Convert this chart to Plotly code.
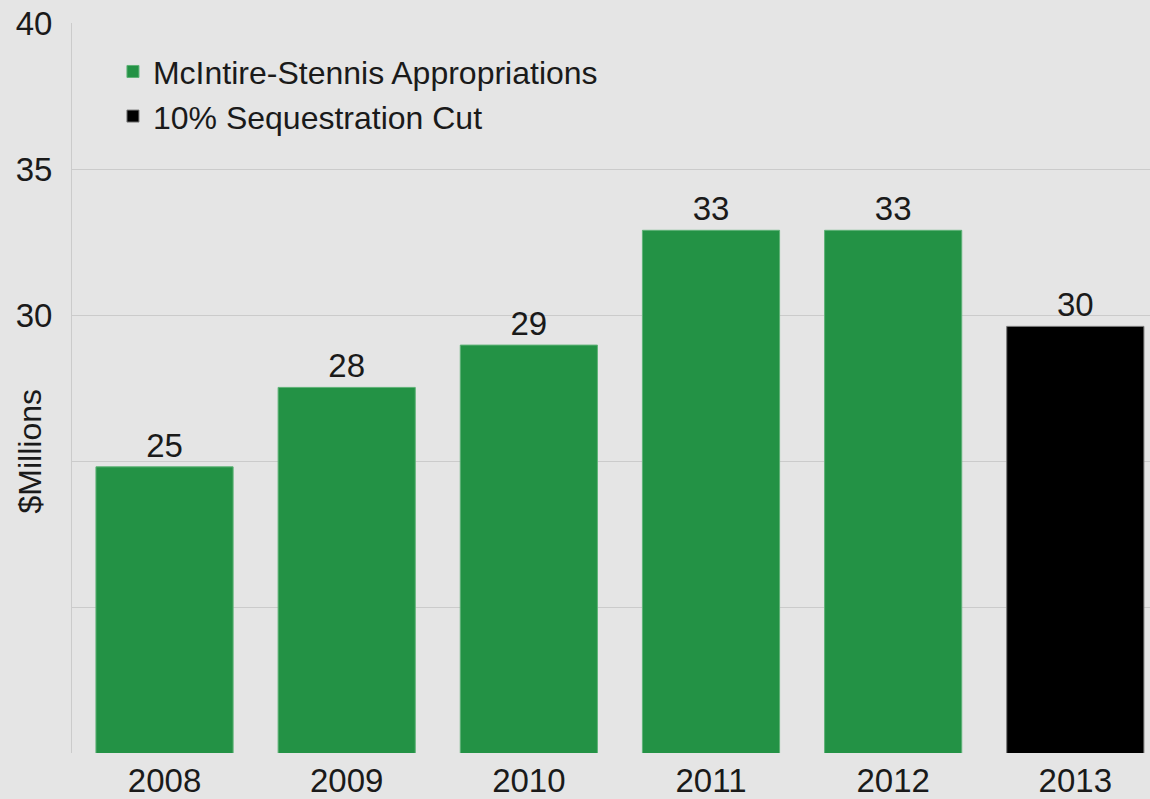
import plotly.graph_objects as go

years_main = ["2008", "2009", "2010", "2011", "2012"]
values_main = [24.8, 27.52, 28.97, 32.9, 32.9]
years_cut = ["2013"]
values_cut = [29.61]
categories = ["2008", "2009", "2010", "2011", "2012", "2013"]
y_tick_vals = [15, 20, 25, 30, 35, 40]
y_tick_text = ["", "", "", "30", "35", "40"]

FONT = "Liberation Sans"
TEXT = "#1a1a1a"
FS = 33

fig = go.Figure()
fig.add_trace(go.Bar(
    x=years_main, y=values_main, name="McIntire-Stennis Appropriations",
    marker=dict(color="#239245", line=dict(color="#5fb277", width=1)),
    texttemplate="%{y:.0f}", textposition="outside",
    textfont=dict(size=FS, color=TEXT, family=FONT), cliponaxis=False,
))
fig.add_trace(go.Bar(
    x=years_cut, y=values_cut, name="10% Sequestration Cut",
    marker=dict(color="#000000", line=dict(color="#777777", width=1)),
    texttemplate="%{y:.0f}", textposition="outside",
    textfont=dict(size=FS, color=TEXT, family=FONT), cliponaxis=False,
))

fig.update_layout(
    width=1150, height=799,
    margin=dict(l=72, r=0, t=23, b=46, autoexpand=False),
    paper_bgcolor="#e5e5e5", plot_bgcolor="#e5e5e5",
    font=dict(family=FONT, size=FS, color=TEXT),
    bargap=0.247, barmode="overlay",
    showlegend=True,
    legend=dict(x=0.038, y=0.971, xanchor="left", yanchor="top",
                bgcolor="rgba(0,0,0,0)", font=dict(size=FS - 1, family=FONT, color=TEXT),
                tracegroupgap=0),
    xaxis=dict(categoryorder="array", categoryarray=categories,
               range=[-0.508, 5.41], showgrid=False, ticks="", showline=False,
               ticklabelstandoff=5,
               tickfont=dict(size=FS, family=FONT, color=TEXT)),
    yaxis=dict(range=[15, 40], tickvals=y_tick_vals, ticktext=y_tick_text,
               showgrid=True, gridcolor="#cbcbcb", gridwidth=1,
               showline=True, linecolor="#cbcbcb", linewidth=1,
               ticks="", ticklabelstandoff=12, zeroline=False,
               tickfont=dict(size=FS, family=FONT, color=TEXT)),
    annotations=[dict(text="$Millions", textangle=-90, xref="paper", yref="paper",
                      x=-0.039, y=0.413, xanchor="center", yanchor="middle",
                      showarrow=False, font=dict(size=32, family=FONT, color=TEXT))],
)

fig.write_html(
    "out.html",
    config={"displayModeBar": False},
    post_script="document.body.style.margin='0';document.body.style.overflow='hidden';",
)
